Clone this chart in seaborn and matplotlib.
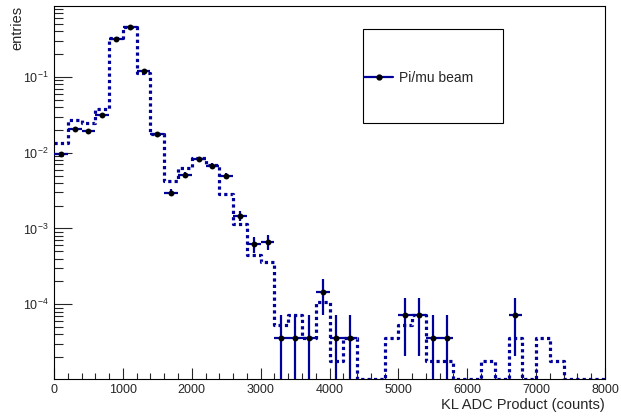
import numpy as np
import pandas as pd
import seaborn as sns
import matplotlib.pyplot as plt
from matplotlib.lines import Line2D
from matplotlib.patches import Rectangle
from matplotlib.ticker import MultipleLocator, LogLocator, NullFormatter

# bins: 40 bins of 200 counts from 0 to 8000
bin_edges = np.arange(0, 8001, 200)
bin_centers = bin_edges[:-1] + 100

# dotted histogram (normalised entries per bin)
hist_vals = [0.0133, 0.0271, 0.0249, 0.0375, 0.33, 0.461, 0.112, 0.0175, 0.00425, 0.00637,
             0.0085, 0.0068, 0.00286, 0.00115, 0.000449, 0.000366, 5.35e-5, 7.1e-5, 3.57e-5, 1.07e-4,
             1.78e-5, 3.57e-5, 0, 0, 3.57e-5, 5.35e-5, 7.1e-5, 1.78e-5, 1.78e-5, 0,
             0, 1.78e-5, 0, 3.57e-5, 0, 3.57e-5, 1.78e-5, 0, 0, 0]

# Pi/mu beam data points and their errors
data_vals = [0.0096, 0.0206, 0.0194, 0.0316, 0.317, 0.453, 0.121, 0.0177, 0.00298, 0.0051,
             0.00828, 0.00676, 0.00494, 0.00148, 0.000627, 0.000666, 3.57e-5, 3.57e-5, 3.57e-5, 1.43e-4,
             3.57e-5, 3.57e-5, 0, 0, 0, 7.1e-5, 7.1e-5, 3.57e-5, 3.57e-5, 0,
             0, 0, 0, 7.1e-5, 0, 0, 0, 0, 0, 0]
data_errs = [5.9e-4, 8.6e-4, 8.3e-4, 1.06e-3, 3.4e-3, 4.0e-3, 2.1e-3, 8.0e-4, 3.3e-4, 4.3e-4,
             5.4e-4, 4.9e-4, 4.2e-4, 2.3e-4, 1.5e-4, 1.54e-4, 3.57e-5, 3.57e-5, 3.57e-5, 7.14e-5,
             3.57e-5, 3.57e-5, 0, 0, 0, 5.05e-5, 5.05e-5, 3.57e-5, 3.57e-5, 0,
             0, 0, 0, 5.05e-5, 0, 0, 0, 0, 0, 0]

y_min, y_max = 1.04e-5, 0.857
navy = '#00009a'

sns.set_theme(style="ticks", rc={
    'xtick.direction': 'in', 'ytick.direction': 'in',
    'axes.edgecolor': 'black', 'axes.linewidth': 0.8,
})
plt.rcParams['font.family'] = ['Liberation Sans', 'DejaVu Sans']

fig = plt.figure(figsize=(6.21, 4.16), dpi=100)
ax = fig.add_axes([0.087, 0.0897, 0.8872, 0.8952])

# zero bins are drawn on the axis floor like ROOT does
df_h = pd.DataFrame({'x': bin_centers, 'w': np.where(np.array(hist_vals) > 0, hist_vals, y_min)})
sns.histplot(data=df_h, x='x', weights='w', bins=len(bin_centers), binrange=(0, 8000),
             element='step', fill=False,
             color=navy, linewidth=2.3, linestyle=(0, (1, 1)), ax=ax)

df_d = pd.DataFrame({'x': bin_centers, 'y': data_vals, 'err': data_errs})
df_d = df_d[df_d['y'] > 0]
ax.errorbar(df_d['x'], df_d['y'], xerr=100, yerr=df_d['err'], fmt='none',
            ecolor=navy, elinewidth=1.6, capsize=0, zorder=3)
sns.scatterplot(data=df_d, x='x', y='y', color='black', s=18, marker='o',
                edgecolor='black', linewidth=0, zorder=4, ax=ax)

ax.set_yscale('log')
ax.set_xlim(0, 8000)
ax.set_ylim(y_min, y_max)

ax.xaxis.set_major_locator(MultipleLocator(1000))
ax.xaxis.set_minor_locator(MultipleLocator(200))
ax.yaxis.set_major_locator(LogLocator(base=10, numticks=10))
ax.yaxis.set_minor_locator(LogLocator(base=10, subs=np.arange(2, 10), numticks=20))
ax.yaxis.set_minor_formatter(NullFormatter())
ax.tick_params(axis='x', which='major', length=8, width=0.8, labelsize=9, pad=4)
ax.tick_params(axis='x', which='minor', length=4, width=0.8)
ax.tick_params(axis='y', which='major', length=13, width=0.8, labelsize=9, pad=4)
ax.tick_params(axis='y', which='minor', length=6.5, width=0.8)
ax.tick_params(top=False, right=False, which='both')

ax.set_xlabel('KL ADC Product (counts)', fontsize=10.5, loc='right', va='center')
ax.xaxis.set_label_coords(1.0, -0.0706)
ax.set_ylabel('entries', fontsize=10.5, loc='top')
ax.yaxis.set_label_coords(-0.053, 1.0)

# legend box
fig.patches.append(Rectangle((363 / 621, 1 - 123 / 416), 140 / 621, 94 / 416,
                             transform=fig.transFigure, fill=False,
                             edgecolor='black', linewidth=0.8))
handle = Line2D([], [], color=navy, linewidth=1.6, marker='o', markersize=3.5,
                markerfacecolor='black', markeredgecolor='black')
fig.legend([handle], ['Pi/mu beam'], loc='center left',
           bbox_to_anchor=(364 / 621, 1 - 78 / 416), frameon=False,
           fontsize=10, handlelength=2.1, handletextpad=0.45,
           borderpad=0, borderaxespad=0)

fig.savefig('out.png', dpi=100)
